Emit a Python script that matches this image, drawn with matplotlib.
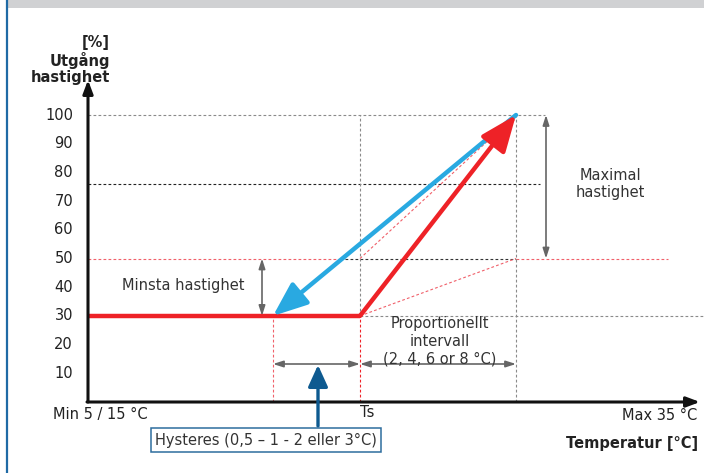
import matplotlib.pyplot as plt

# Nivåer (procent utgångshastighet)
min_speed = 30
min_speed_top = 50
mid_level = 76
max_speed = 100
y_ticks = [100, 90, 80, 70, 60, 50, 40, 30, 20, 10]

# Positioner längs temperaturaxeln (diagramenheter)
x_origin = 88
x_hyst = 273
x_ts = 360
x_prop_end = 516
x_axis_end = 700

# Kurvor
red_x = [x_origin, x_ts]
red_y = [min_speed, min_speed]
red_rise = [(x_ts, min_speed), (x_prop_end, max_speed)]
blue_fall = [(x_prop_end, max_speed), (x_hyst, min_speed)]


def Y(py):
    # pixelrad -> procent
    return (402 - py) / 2.87


fig = plt.figure(figsize=(7.04, 4.73), dpi=100)
ax = fig.add_axes([0, 0, 1, 1])
ax.set_xlim(0, 704)
ax.set_ylim(Y(473), Y(0))
ax.axis('off')

RED = '#ee2227'
BLUE = '#29a9e1'
GRAY = '#8a8a8a'
PINK = '#f0606a'
FS = 10.5

# ram: grått band överst och blå kant till vänster
ax.axhspan(Y(8), Y(0), xmin=7 / 704, color='#d0d1d3', lw=0)
ax.axvline(6.5, color='#1f6aa5', lw=1.6)

dash = dict(lw=0.8, dashes=(2.5, 2))

# streckade hjälplinjer
ax.plot([x_origin, 545], [max_speed, max_speed], color=GRAY, **dash)
ax.plot([x_origin, 540], [mid_level, mid_level], color='#222222', **dash)
ax.plot([x_origin, 340], [min_speed_top, min_speed_top], color=PINK, **dash)
ax.plot([340, x_prop_end], [min_speed_top, min_speed_top], color='#333333', **dash)
ax.plot([x_prop_end, 668], [min_speed_top, min_speed_top], color=PINK, **dash)
ax.plot([x_ts, 704], [min_speed, min_speed], color=GRAY, **dash)
ax.plot([x_ts, x_ts], [min_speed, max_speed], color=GRAY, **dash)
ax.plot([x_ts, x_ts], [0, min_speed], color=RED, **dash)
ax.plot([x_prop_end, x_prop_end], [0, max_speed], color=GRAY, **dash)
ax.plot([x_hyst, x_hyst], [0, min_speed], color=PINK, **dash)
ax.plot([x_ts, x_prop_end], [min_speed_top, max_speed], color=PINK, **dash)
ax.plot([x_ts, x_prop_end], [min_speed, min_speed_top], color=PINK, **dash)

# axlar
ax.annotate('', xy=(x_origin, Y(80)), xytext=(x_origin, 0),
            arrowprops=dict(arrowstyle='-|>,head_length=0.8,head_width=0.3',
                            color='#111111', lw=2.2, shrinkA=0, shrinkB=0))
ax.annotate('', xy=(x_axis_end, 0), xytext=(x_origin - 1, 0),
            arrowprops=dict(arrowstyle='-|>,head_length=0.8,head_width=0.3',
                            color='#111111', lw=2.2, shrinkA=0, shrinkB=0))

for t in y_ticks:
    ax.text(73, t, str(t), ha='right', va='center', fontsize=FS, color='#222222')

# blå kurva (under den röda)
ax.annotate('', xy=blue_fall[1], xytext=blue_fall[0],
            arrowprops=dict(arrowstyle='-|>,head_length=1.5,head_width=0.6',
                            color=BLUE, lw=3.2, shrinkA=0, shrinkB=0,
                            mutation_scale=14))
# röd kurva
ax.plot(red_x, red_y, color=RED, lw=3.2, solid_capstyle='butt')
ax.annotate('', xy=red_rise[1], xytext=red_rise[0],
            arrowprops=dict(arrowstyle='-|>,head_length=1.6,head_width=0.65',
                            color=RED, lw=3.2, shrinkA=0, shrinkB=0,
                            mutation_scale=14))

# måttpilar
gray_arrow = dict(arrowstyle='<|-|>,head_length=0.5,head_width=0.16',
                  color='#666666', lw=1.2, shrinkA=0, shrinkB=0,
                  mutation_scale=12)
ax.annotate('', xy=(262, min_speed), xytext=(262, min_speed_top), arrowprops=gray_arrow)
ax.annotate('', xy=(546, min_speed_top), xytext=(546, max_speed), arrowprops=gray_arrow)
ax.annotate('', xy=(x_hyst, Y(364)), xytext=(x_ts, Y(364)), arrowprops=gray_arrow)
ax.annotate('', xy=(x_ts, Y(364)), xytext=(x_prop_end, Y(364)), arrowprops=gray_arrow)

# hysteres-pil
ax.annotate('', xy=(318, Y(365)), xytext=(318, Y(426)),
            arrowprops=dict(arrowstyle='-|>,head_length=1.1,head_width=0.5',
                            color='#0e5a90', lw=2.4, shrinkA=0, shrinkB=0,
                            mutation_scale=12))

# texter
ax.text(110, Y(60), '[%]\nUtgång\nhastighet', ha='right', va='center',
        fontsize=FS, fontweight='bold', color='#222222', linespacing=1.15)
ax.text(183, Y(285), 'Minsta hastighet', ha='center', va='center',
        fontsize=FS, color='#333333')
ax.text(610, Y(184), 'Maximal\nhastighet', ha='center', va='center',
        fontsize=FS, color='#333333', linespacing=1.2)
ax.text(440, Y(341), 'Proportionellt\nintervall\n(2, 4, 6 or 8 °C)',
        ha='center', va='center', fontsize=FS, color='#333333', linespacing=1.25)
ax.text(100, Y(414), 'Min 5 / 15 °C', ha='center', va='center',
        fontsize=FS, color='#222222')
ax.text(367, Y(412), 'Ts', ha='center', va='center', fontsize=FS, color='#222222')
ax.text(697, Y(415), 'Max 35 °C', ha='right', va='center',
        fontsize=FS, color='#222222')
ax.text(698, Y(443), 'Temperatur [°C]', ha='right', va='center',
        fontsize=FS, fontweight='bold', color='#222222')
ax.text(266, Y(440), 'Hysteres (0,5 – 1 - 2 eller 3°C)', ha='center', va='center',
        fontsize=FS, color='#333333',
        bbox=dict(boxstyle='square,pad=0.3', fc='white', ec='#2e6d9e', lw=1.1))

fig.savefig('out.png', dpi=100)
